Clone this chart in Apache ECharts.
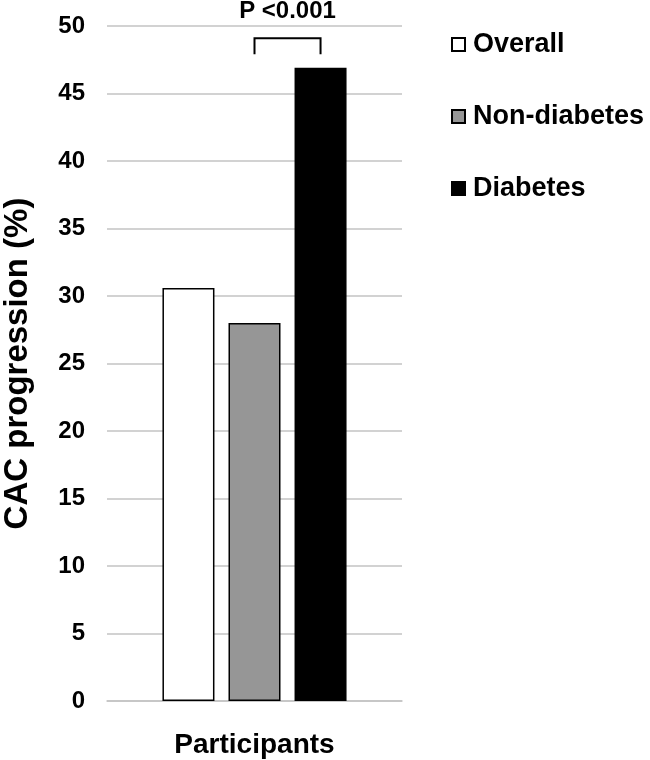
<!DOCTYPE html>
<html>
<head>
<meta charset="utf-8">
<script src="https://cdn.jsdelivr.net/npm/echarts@6/dist/echarts.min.js"></script>
<style>
html,body{margin:0;padding:0;background:#fff;}
#main{width:650px;height:760px;}
</style>
</head>
<body>
<div id="main"></div>
<script>
const categories = ['Participants'];
const seriesNames = ['Overall', 'Non-diabetes', 'Diabetes'];
const overallValues = [30.6];
const nonDiabetesValues = [28.0];
const diabetesValues = [46.9];
const yTicks = [0, 5, 10, 15, 20, 25, 30, 35, 40, 45, 50];
const pLabel = 'P <0.001';
const bracketTop = 49.1;
const bracketBottom = 47.9;
const pLabelValue = 51.1;

const FONT = 'Liberation Sans, Arial, sans-serif';
const chart = echarts.init(document.getElementById('main'), null, {renderer: 'canvas'});

const colors = ['#ffffff', '#969696', '#000000'];
const dataArr = [overallValues, nonDiabetesValues, diabetesValues];

const option = {
  backgroundColor: '#ffffff',
  animation: false,
  grid: {left: 103, right: 248, top: 26, bottom: 59, containLabel: false},
  legend: {
    orient: 'vertical',
    left: 451,
    top: 31,
    padding: 0,
    itemWidth: 13,
    itemHeight: 13,
    itemGap: 45,
    icon: 'rect',
    textStyle: {fontFamily: FONT, fontWeight: 'bold', fontSize: 27, color: '#000', lineHeight: 27, padding: [0, 0, 0, 3]},
    data: seriesNames
  },
  xAxis: {
    type: 'category',
    data: categories,
    axisLine: {show: true, lineStyle: {color: '#c3c3c3', width: 1.5}},
    axisTick: {show: false},
    axisLabel: {fontFamily: FONT, fontWeight: 'bold', fontSize: 28, color: '#000', margin: 30}
  },
  yAxis: {
    type: 'value',
    min: 0, max: 50, interval: 5,
    name: 'CAC progression (%)',
    nameLocation: 'middle',
    nameGap: 73,
    nameTextStyle: {fontFamily: FONT, fontWeight: 'bold', fontSize: 33, color: '#000'},
    axisLine: {show: false},
    axisTick: {show: false},
    axisLabel: {fontFamily: FONT, fontWeight: 'bold', fontSize: 24, color: '#000', margin: 22,
      formatter: v => yTicks.includes(v) ? String(v) : ''},
    splitLine: {show: true, lineStyle: {color: '#c3c3c3', width: 1.5}}
  },
  series: seriesNames.map((n, i) => ({
    name: n,
    type: 'bar',
    data: dataArr[i],
    barWidth: 52,
    barGap: '27%',
    itemStyle: {color: colors[i], borderColor: '#000', borderWidth: 1.5}
  }))
};
chart.setOption(option);

function drawAnnotation() {
  let x1, x2;
  try {
    const l1 = chart.getModel().getSeriesByIndex(1).getData().getItemLayout(0);
    const l2 = chart.getModel().getSeriesByIndex(2).getData().getItemLayout(0);
    x1 = l1.x + l1.width / 2;
    x2 = l2.x + l2.width / 2;
  } catch (e) {
    const c = chart.convertToPixel({xAxisIndex: 0}, categories[0]);
    x1 = c; x2 = c + 66;
  }
  const yTop = chart.convertToPixel({yAxisIndex: 0}, bracketTop);
  const yBot = chart.convertToPixel({yAxisIndex: 0}, bracketBottom);
  const yText = chart.convertToPixel({yAxisIndex: 0}, pLabelValue);
  chart.setOption({
    graphic: [
      {type: 'polyline', shape: {points: [[x1, yBot], [x1, yTop], [x2, yTop], [x2, yBot]]},
       style: {stroke: '#000', lineWidth: 2, fill: null}, z: 10},
      {type: 'text', x: (x1 + x2) / 2, y: yText,
       style: {text: pLabel, fontFamily: FONT, fontWeight: 'bold', fontSize: 24, fill: '#000',
               align: 'center', verticalAlign: 'middle'}, z: 10}
    ]
  });
}
drawAnnotation();
</script>
</body>
</html>
